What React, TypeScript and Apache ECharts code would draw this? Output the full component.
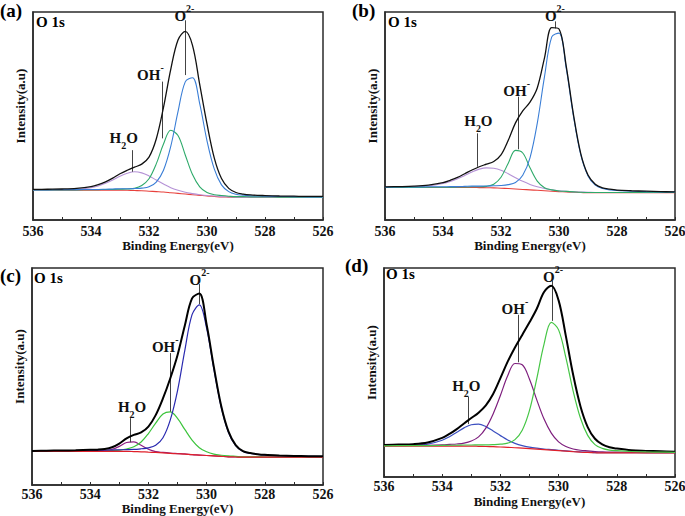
import React, { useEffect, useRef } from "react";
import * as echarts from "echarts";

// Binding energy grid (eV), shared by all four panels
const energy = [536, 535.5, 535, 534.5, 534, 533.75, 533.5, 533.25, 533, 532.75, 532.5, 532.25, 532, 531.75, 531.5, 531.25, 531, 530.75, 530.5, 530.25, 530, 529.75, 529.5, 529.25, 529, 528.75, 528.5, 528.25, 528, 527.5, 527, 526.5, 526];

// Panel (a)
const bgA = [13.7, 13.7, 13.7, 13.7, 13.7, 13.7, 13.7, 13.7, 13.7, 13.6, 13.5, 13.4, 13.2, 13.0, 12.8, 12.5, 12.2, 11.9, 11.6, 11.3, 11.0, 10.8, 10.6, 10.5, 10.4, 10.4, 10.4, 10.4, 10.4, 10.4, 10.4, 10.4, 10.4];
const h2oA = [13.8, 13.8, 13.9, 14.1, 14.8, 15.6, 16.8, 18.3, 20.1, 21.4, 22.1, 21.6, 20.2, 18.3, 16.5, 14.8, 13.6, 12.7, 12.1, 11.6, 11.2, 11.0, 10.7, 10.6, 10.5, 10.5, 10.5, 10.5, 10.5, 10.5, 10.5, 10.5, 10.5];
const ohA = [13.8, 13.8, 13.8, 13.8, 13.9, 13.9, 14.0, 14.0, 14.1, 14.2, 14.5, 15.8, 18.9, 25.7, 34.8, 41.1, 38.7, 29.8, 20.8, 15.2, 12.6, 11.6, 11.2, 10.9, 10.7, 10.7, 10.6, 10.6, 10.6, 10.5, 10.5, 10.5, 10.5];
const o2A = [13.8, 13.8, 13.9, 13.9, 14.0, 14.0, 14.1, 14.2, 14.3, 14.3, 14.4, 14.6, 15.2, 17.4, 22.8, 33.7, 49.6, 63.3, 65.2, 53.2, 36.3, 23.4, 16.1, 13.0, 11.8, 11.4, 11.1, 11.0, 10.9, 10.8, 10.7, 10.6, 10.6];
const totalA = [14.0, 14.1, 14.2, 14.5, 15.3, 16.2, 17.5, 19.2, 21.2, 22.8, 24.2, 25.6, 28.8, 37.1, 51.6, 69.0, 82.5, 86.4, 80.0, 62.0, 44.0, 28.5, 19.0, 14.5, 12.6, 11.9, 11.5, 11.3, 11.2, 11.0, 10.9, 10.8, 10.8];

// Panel (b)
const bgB = [14.9, 14.9, 14.9, 14.9, 14.9, 14.9, 14.9, 14.9, 14.9, 14.85, 14.8, 14.7, 14.55, 14.4, 14.2, 14.0, 13.8, 13.6, 13.4, 13.2, 13.0, 12.85, 12.7, 12.6, 12.5, 12.5, 12.5, 12.5, 12.5, 12.5, 12.5, 12.5, 12.5];
const h2oB = [15.0, 15.1, 15.2, 15.6, 16.7, 17.6, 18.9, 20.4, 22.0, 23.3, 23.9, 23.7, 22.8, 21.2, 19.4, 17.7, 16.3, 15.2, 14.4, 13.8, 13.4, 13.1, 12.9, 12.8, 12.7, 12.6, 12.6, 12.6, 12.6, 12.6, 12.6, 12.6, 12.6];
const ohB = [14.9, 14.9, 14.9, 15.0, 15.0, 15.0, 15.1, 15.1, 15.2, 15.2, 15.4, 16.4, 19.6, 26.0, 31.9, 30.7, 23.9, 17.8, 14.8, 13.8, 13.3, 13.1, 12.9, 12.7, 12.6, 12.6, 12.6, 12.6, 12.6, 12.6, 12.6, 12.6, 12.6];
const o2B = [15.0, 15.1, 15.1, 15.2, 15.2, 15.3, 15.3, 15.4, 15.5, 15.5, 15.6, 15.7, 15.8, 16.2, 17.2, 20.5, 28.5, 44.3, 65.7, 83.9, 85.6, 69.4, 47.5, 29.9, 20.2, 16.0, 14.4, 13.8, 13.5, 13.2, 13.0, 12.9, 12.8];
const totalB = [15.2, 15.3, 15.5, 16.0, 17.1, 18.2, 19.5, 21.2, 22.9, 24.4, 25.6, 26.8, 29.8, 36.5, 44.5, 50.0, 54.0, 60.5, 74.3, 88.1, 87.5, 70.4, 48.2, 30.4, 20.6, 16.4, 14.7, 14.1, 13.7, 13.4, 13.2, 13.0, 12.9];

// Panel (c)
const bgC = [15.5, 15.5, 15.5, 15.5, 15.5, 15.5, 15.5, 15.5, 15.5, 15.5, 15.4, 15.3, 15.15, 15.0, 14.8, 14.6, 14.4, 14.2, 14.0, 13.8, 13.6, 13.4, 13.2, 13.0, 12.9, 12.8, 12.8, 12.8, 12.8, 12.8, 12.8, 12.8, 12.8];
const h2oC = [15.5, 15.5, 15.5, 15.6, 15.6, 15.6, 15.8, 16.4, 17.8, 19.6, 19.9, 18.3, 16.5, 15.4, 15.0, 14.7, 14.5, 14.3, 14.0, 13.8, 13.6, 13.4, 13.2, 13.0, 12.9, 12.8, 12.8, 12.8, 12.8, 12.8, 12.8, 12.8, 12.8];
const ohC = [15.6, 15.6, 15.6, 15.7, 15.7, 15.8, 15.8, 15.9, 16.1, 16.6, 17.6, 19.8, 23.7, 28.5, 32.7, 33.7, 30.7, 25.6, 20.7, 17.2, 15.3, 14.2, 13.7, 13.4, 13.2, 13.0, 13.0, 13.0, 12.9, 12.9, 12.9, 12.9, 12.9];
const o2C = [15.7, 15.7, 15.7, 15.8, 15.9, 15.9, 16.0, 16.1, 16.2, 16.3, 16.4, 16.7, 17.1, 18.3, 21.8, 29.9, 43.4, 61.9, 78.5, 83.0, 72.3, 53.4, 36.0, 24.3, 18.1, 15.4, 14.5, 14.1, 13.8, 13.5, 13.3, 13.2, 13.1];
const totalC = [15.7, 15.8, 15.9, 16.0, 16.2, 16.3, 16.6, 17.4, 19.1, 21.5, 23.1, 24.2, 26.9, 32.2, 39.9, 49.1, 59.8, 73.4, 86.0, 88.2, 74.0, 54.3, 36.5, 24.7, 18.4, 15.6, 14.7, 14.2, 13.9, 13.6, 13.4, 13.3, 13.2];

// Panel (d)
const bgD = [14.8, 14.8, 14.8, 14.8, 14.8, 14.8, 14.8, 14.8, 14.8, 14.7, 14.6, 14.5, 14.35, 14.2, 14.0, 13.8, 13.6, 13.35, 13.1, 12.85, 12.6, 12.35, 12.1, 11.9, 11.75, 11.6, 11.5, 11.5, 11.5, 11.5, 11.5, 11.5, 11.5];
const h2oD = [14.9, 15.0, 15.1, 15.7, 17.6, 19.3, 21.4, 23.5, 25.0, 25.3, 24.1, 22.0, 19.8, 17.7, 16.1, 15.0, 14.3, 13.8, 13.4, 13.1, 12.8, 12.5, 12.2, 12.0, 11.9, 11.7, 11.6, 11.6, 11.6, 11.6, 11.6, 11.6, 11.6];
const ohD = [15.0, 15.1, 15.1, 15.2, 15.4, 15.6, 15.8, 16.2, 17.2, 19.2, 23.4, 30.2, 39.0, 48.4, 54.3, 53.7, 46.8, 36.9, 27.7, 21.0, 16.8, 14.6, 13.4, 12.8, 12.5, 12.2, 12.0, 11.9, 11.9, 11.8, 11.7, 11.7, 11.6];
const o2D = [14.9, 15.0, 15.0, 15.0, 15.1, 15.2, 15.2, 15.3, 15.3, 15.4, 15.4, 15.5, 15.7, 16.2, 17.9, 22.4, 31.9, 47.1, 63.6, 74.0, 70.4, 57.1, 41.1, 28.2, 19.9, 15.5, 13.7, 12.9, 12.6, 12.2, 12.0, 11.9, 11.8];
const totalD = [15.3, 15.5, 15.7, 16.5, 18.7, 20.6, 22.9, 25.6, 28.2, 30.8, 34.3, 39.7, 47.3, 55.2, 62.0, 68.0, 74.0, 80.5, 88.5, 91.5, 84.5, 67.4, 48.9, 33.9, 23.9, 18.3, 15.6, 14.2, 13.6, 12.8, 12.5, 12.3, 12.1];

// Axis ticks
const xMin = 526;
const xMax = 536;
const xTickStep = 1;

const FONT = '"Liberation Serif", "Times New Roman", serif';
const FRAME = "#2b2b2b";

type Curve = { name: string; values: number[]; color: string; width: number };
type Ann = { kind: "o2" | "oh" | "h2o"; lineE: number; lineTop: number; lineBottom: number; labelE: number; labelV: number };
type Panel = {
  tag: string;
  grid: { left: number; top: number; width: number; height: number };
  yMax: number;
  tagPos: [number, number];
  o1sPos: [number, number];
  xNameGap: number;
  xLabelMargin: number;
  curves: Curve[];
  anns: Ann[];
};

const panels: Panel[] = [
  {
    tag: "(a)",
    grid: { left: 33, top: 12, width: 290, height: 208 },
    yMax: 95.3,
    tagPos: [0, 1],
    o1sPos: [36, 14],
    xNameGap: 14,
    xLabelMargin: 4,
    curves: [
      { name: "Background", values: bgA, color: "#e8413c", width: 1.1 },
      { name: "H2O", values: h2oA, color: "#b592d6", width: 1.1 },
      { name: "OH-", values: ohA, color: "#2eaa6a", width: 1.1 },
      { name: "O2-", values: o2A, color: "#3a7ed6", width: 1.1 },
      { name: "Total", values: totalA, color: "#111111", width: 1.3 },
    ],
    anns: [
      { kind: "o2", lineE: 530.76, lineTop: 91.5, lineBottom: 66.4, labelE: 530.78, labelV: 94.5 },
      { kind: "oh", lineE: 531.54, lineTop: 63.4, lineBottom: 37.4, labelE: 531.95, labelV: 67.6 },
      { kind: "h2o", lineE: 532.58, lineTop: 32.0, lineBottom: 22.1, labelE: 532.87, labelV: 36.4 },
    ],
  },
  {
    tag: "(b)",
    grid: { left: 385, top: 12, width: 290, height: 208 },
    yMax: 95.3,
    tagPos: [352, 1],
    o1sPos: [388, 14],
    xNameGap: 14,
    xLabelMargin: 4,
    curves: [
      { name: "Background", values: bgB, color: "#e8413c", width: 1.1 },
      { name: "H2O", values: h2oB, color: "#b592d6", width: 1.1 },
      { name: "OH-", values: ohB, color: "#2eaa6a", width: 1.1 },
      { name: "O2-", values: o2B, color: "#3a7ed6", width: 1.1 },
      { name: "Total", values: totalB, color: "#111111", width: 1.3 },
    ],
    anns: [
      { kind: "o2", lineE: 530.12, lineTop: 91.0, lineBottom: 87.8, labelE: 530.14, labelV: 94.5 },
      { kind: "oh", lineE: 531.41, lineTop: 56.5, lineBottom: 32.4, labelE: 531.46, labelV: 60.3 },
      { kind: "h2o", lineE: 532.83, lineTop: 39.7, lineBottom: 24.4, labelE: 532.78, labelV: 44.0 },
    ],
  },
  {
    tag: "(c)",
    grid: { left: 32, top: 268, width: 291, height: 217 },
    yMax: 100,
    tagPos: [0, 266],
    o1sPos: [34, 270],
    xNameGap: 11,
    xLabelMargin: 2,
    curves: [
      { name: "H2O", values: h2oC, color: "#8e1f80", width: 1.2 },
      { name: "OH-", values: ohC, color: "#3cc43c", width: 1.2 },
      { name: "O2-", values: o2C, color: "#2a2ab0", width: 1.2 },
      { name: "Background", values: bgC, color: "#e0202a", width: 1.2 },
      { name: "Total", values: totalC, color: "#000000", width: 2 },
    ],
    anns: [
      { kind: "o2", lineE: 530.24, lineTop: 92.6, lineBottom: 83.4, labelE: 530.24, labelV: 95.4 },
      { kind: "oh", lineE: 531.25, lineTop: 60.8, lineBottom: 33.8, labelE: 531.42, labelV: 64.6 },
      { kind: "h2o", lineE: 532.62, lineTop: 30.8, lineBottom: 19.7, labelE: 532.56, labelV: 34.6 },
    ],
  },
  {
    tag: "(d)",
    grid: { left: 384, top: 268, width: 291, height: 209 },
    yMax: 100,
    tagPos: [345, 256],
    o1sPos: [386, 266],
    xNameGap: 18,
    xLabelMargin: 2,
    curves: [
      { name: "H2O", values: h2oD, color: "#3b4fc0", width: 1.2 },
      { name: "OH-", values: ohD, color: "#7e1f7e", width: 1.2 },
      { name: "Background", values: bgD, color: "#e0202a", width: 1.2 },
      { name: "Total", values: totalD, color: "#000000", width: 2 },
      { name: "O2-", values: o2D, color: "#46c646", width: 1.2 },
    ],
    anns: [
      { kind: "o2", lineE: 530.22, lineTop: 93.9, lineBottom: 74.7, labelE: 530.19, labelV: 96.8 },
      { kind: "oh", lineE: 531.39, lineTop: 77.6, lineBottom: 54.9, labelE: 531.5, labelV: 81.6 },
      { kind: "h2o", lineE: 533.1, lineTop: 38.4, lineBottom: 25.3, labelE: 533.17, labelV: 42.4 },
    ],
  },
];

const labelText: Record<string, string> = {
  o2: "{m|O}{s|2-}",
  oh: "{m|OH}{s|-}",
  h2o: "{h|H}{b|2}{h|O}",
};

const rich = {
  m: { fontFamily: FONT, fontWeight: "bold", fontSize: 15, lineHeight: 20, color: "#111", verticalAlign: "bottom" },
  s: { fontFamily: FONT, fontWeight: "bold", fontSize: 10, lineHeight: 10, color: "#111", verticalAlign: "top" },
  h: { fontFamily: FONT, fontWeight: "bold", fontSize: 15, lineHeight: 20, color: "#111", verticalAlign: "top" },
  b: { fontFamily: FONT, fontWeight: "bold", fontSize: 10, lineHeight: 10, color: "#111", verticalAlign: "bottom" },
};

function buildOption() {
  const grid: any[] = [];
  const xAxis: any[] = [];
  const yAxis: any[] = [];
  const series: any[] = [];
  const graphic: any[] = [];

  panels.forEach((p, i) => {
    grid.push({
      left: p.grid.left,
      top: p.grid.top,
      width: p.grid.width,
      height: p.grid.height,
      show: true,
      borderColor: FRAME,
      borderWidth: 1.5,
      backgroundColor: "transparent",
      containLabel: false,
      outerBoundsMode: "none",
    });
    xAxis.push({
      type: "value",
      gridIndex: i,
      min: xMin,
      max: xMax,
      interval: xTickStep,
      inverse: true,
      name: "Binding Energy(eV)",
      nameLocation: "middle",
      nameGap: p.xNameGap,
      nameTextStyle: { fontFamily: FONT, fontWeight: "bold", fontSize: 13, color: "#111" },
      axisLine: { show: true, onZero: false, lineStyle: { color: FRAME, width: 1.5 } },
      axisTick: { show: true, inside: true, length: 3, lineStyle: { color: FRAME, width: 1 } },
      minorTick: { show: false },
      axisLabel: {
        show: true,
        margin: p.xLabelMargin,
        fontFamily: FONT,
        fontWeight: "bold",
        fontSize: 14,
        color: "#111",
        formatter: (v: number) => {
          const r = Math.round(v);
          return r % 2 === 0 ? String(r) : "";
        },
      },
      splitLine: { show: false },
    });
    yAxis.push({
      type: "value",
      gridIndex: i,
      min: 0,
      max: p.yMax,
      name: "Intensity(a.u)",
      nameLocation: "middle",
      nameGap: 6,
      nameTextStyle: { fontFamily: FONT, fontWeight: "bold", fontSize: 13, color: "#111", padding: [0, 0, 0, 20] },
      axisLine: { show: true, onZero: false, lineStyle: { color: FRAME, width: 1.5 } },
      axisTick: { show: false },
      axisLabel: { show: false },
      splitLine: { show: false },
    });

    p.curves.forEach((c, k) => {
      const s: any = {
        type: "line",
        name: `${p.tag} ${c.name}`,
        xAxisIndex: i,
        yAxisIndex: i,
        data: energy.map((e, j) => [e, c.values[j]]),
        smooth: 0.35,
        symbol: "none",
        showSymbol: false,
        silent: true,
        z: 2 + k,
        lineStyle: { color: c.color, width: c.width },
        itemStyle: { color: c.color },
      };
      if (c.name === "Total") {
        s.markLine = {
          silent: true,
          symbol: ["none", "none"],
          label: { show: false },
          lineStyle: { color: "#444", width: 1, type: "solid" },
          data: p.anns.map((a) => [{ coord: [a.lineE, a.lineTop] }, { coord: [a.lineE, a.lineBottom] }]),
        };
        s.markPoint = {
          silent: true,
          symbol: "circle",
          symbolSize: 1,
          itemStyle: { color: "rgba(0,0,0,0)" },
          label: { show: true, position: "inside", rich },
          data: p.anns.map((a) => ({
            coord: [a.labelE, a.labelV],
            label: { show: true, position: "inside", formatter: labelText[a.kind], rich },
          })),
        };
      }
      series.push(s);
    });

    graphic.push({
      type: "text",
      left: p.tagPos[0],
      top: p.tagPos[1],
      style: { text: p.tag, font: `bold 19px ${FONT}`, fill: "#000" },
    });
    graphic.push({
      type: "text",
      left: p.o1sPos[0],
      top: p.o1sPos[1],
      style: { text: "O 1s", font: `bold 15px ${FONT}`, fill: "#000" },
    });
  });

  return {
    animation: false,
    backgroundColor: "#ffffff",
    grid,
    xAxis,
    yAxis,
    series,
    graphic,
  };
}

export default function App() {
  const ref = useRef<HTMLDivElement>(null);
  useEffect(() => {
    if (!ref.current) return;
    const chart = echarts.init(ref.current, undefined, { renderer: "svg" });
    chart.setOption(buildOption() as any);
    return () => chart.dispose();
  }, []);
  return (
    <div
      ref={ref}
      style={{ position: "absolute", left: 0, top: 0, width: 685, height: 516, background: "#fff" }}
    />
  );
}
